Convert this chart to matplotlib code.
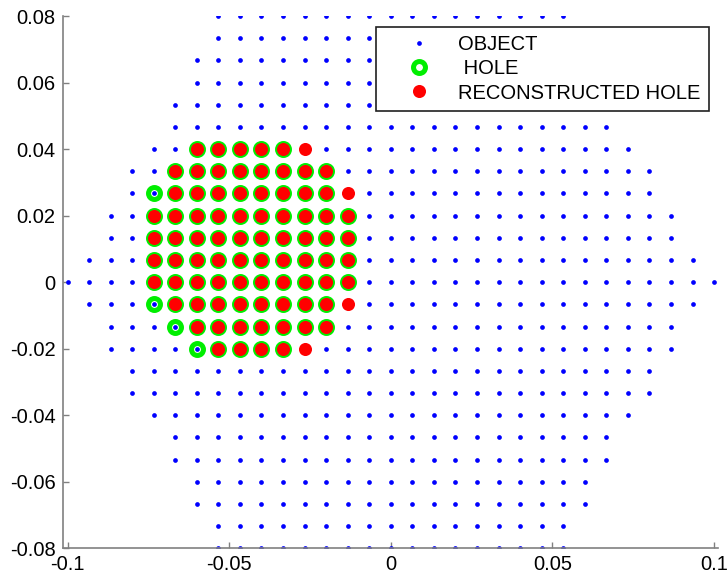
import matplotlib
matplotlib.use("Agg")
import matplotlib.pyplot as plt
from matplotlib.lines import Line2D
import numpy as np

STEP = 0.02 / 3  # lattice pitch of the object grid

# object lattice: half-width (in pitches) of each row, from y=0 outward (same above and below)
row_halfwidth = [15, 14, 13, 13, 12, 12, 11, 10, 10, 9, 9, 8, 8]

# holes, one entry per row (row index in pitches), first/last column in pitches
hole_rows = [6, 5, 4, 3, 2, 1, 0, -1, -2, -3]
hole_first = [-9, -10, -11, -11, -11, -11, -11, -11, -10, -9]
hole_last = [-5, -3, -3, -2, -2, -2, -2, -3, -3, -5]

# reconstructed holes, same rows
recon_first = [-9, -10, -10, -11, -11, -11, -11, -10, -9, -8]
recon_last = [-4, -3, -2, -2, -2, -2, -2, -2, -3, -4]

xticks = [-0.1, -0.05, 0, 0.05, 0.1]
xtick_labels = ["-0.1", "-0.05", "0", "0.05", "0.1"]
yticks = [-0.08, -0.06, -0.04, -0.02, 0, 0.02, 0.04, 0.06, 0.08]
ytick_labels = ["-0.08", "-0.06", "-0.04", "-0.02", "0", "0.02", "0.04", "0.06", "0.08"]


def rows_to_points(rows, first, last):
    xs, ys = [], []
    for j, a, b in zip(rows, first, last):
        for k in range(a, b + 1):
            xs.append(k * STEP)
            ys.append(j * STEP)
    return np.array(xs), np.array(ys)


n = len(row_halfwidth) - 1
obj_rows = list(range(n, -n - 1, -1))
obj_hw = [row_halfwidth[abs(j)] for j in obj_rows]
ox, oy = rows_to_points(obj_rows, [-h for h in obj_hw], obj_hw)
hx, hy = rows_to_points(hole_rows, hole_first, hole_last)
rx, ry = rows_to_points(hole_rows, recon_first, recon_last)

plt.rcParams["font.family"] = ["Liberation Sans", "DejaVu Sans"]

fig = plt.figure(figsize=(7.27, 5.79), dpi=100)
ax = fig.add_axes([0.0862, 0.0530, 0.9018, 0.9193])

ax.plot(ox, oy, "o", color="blue", markersize=3.4, markeredgewidth=0, linestyle="none")
ax.plot(hx, hy, "o", markerfacecolor="none", markeredgecolor="#00ee00",
        markersize=8.6, markeredgewidth=3.6, linestyle="none")
ax.plot(rx, ry, "o", color="red", markersize=9.4, markeredgewidth=0, linestyle="none")

ax.set_xlim(-0.1015, 0.1013)
ax.set_ylim(-0.08, 0.08)
ax.set_xticks(xticks)
ax.set_xticklabels(xtick_labels)
ax.set_yticks(yticks)
ax.set_yticklabels(ytick_labels)

for side in ("top", "right"):
    ax.spines[side].set_visible(False)
for side in ("left", "bottom"):
    ax.spines[side].set_color("#808080")
    ax.spines[side].set_linewidth(1.2)
ax.tick_params(direction="in", length=4, width=1, color="#808080",
               labelsize=14.5, pad=5)

handles = [
    Line2D([], [], marker="o", color="blue", markersize=3.4, markeredgewidth=0, linestyle="none"),
    Line2D([], [], marker="o", markerfacecolor="none", markeredgecolor="#00ee00",
           markersize=8.6, markeredgewidth=3.6, linestyle="none"),
    Line2D([], [], marker="o", color="red", markersize=9.4, markeredgewidth=0, linestyle="none"),
]
leg = ax.legend(handles, ["OBJECT", " HOLE", "RECONSTRUCTED HOLE"],
                loc="upper right", bbox_to_anchor=(709 / 727, 1 - 27 / 579),
                bbox_transform=fig.transFigure, fontsize=14.5, frameon=True,
                fancybox=False, framealpha=1, edgecolor="#202020",
                borderpad=0.42, labelspacing=0.25, handlelength=3.5, handletextpad=0.18,
                borderaxespad=0)
leg.get_frame().set_linewidth(1.2)

fig.savefig("out.png", dpi=100)
